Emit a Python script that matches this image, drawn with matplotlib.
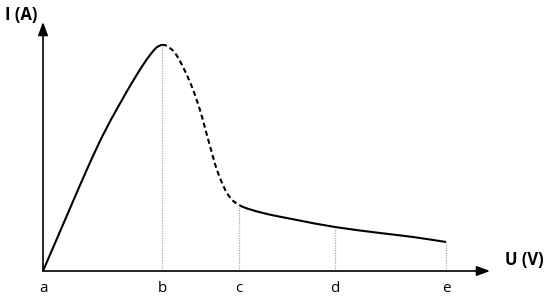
import matplotlib
matplotlib.use("Agg")
import matplotlib.pyplot as plt
from matplotlib.path import Path
from matplotlib.patches import PathPatch

plt.rcParams['font.family'] = ['Open Sans', 'DejaVu Sans']

# Tick positions and labels on the U axis
tick_labels = ['a', 'b', 'c', 'd', 'e']
tick_pos = [0, 119, 196, 292, 403]

# Rising branch (a -> b), solid
rise_x = [0, 25, 45, 60, 75, 90, 100, 107, 113, 116, 119]
rise_y = [0, 58, 104, 136, 164, 190, 206, 216, 223, 225, 226]
# Negative-resistance branch (b -> c), dashed
fall_x = [119, 124, 132, 140, 149, 157, 162, 167, 174, 184, 196]
fall_y = [226, 225, 218, 204, 184, 161, 143, 125, 101, 78, 66]
# Tail branch (c -> e), solid
tail_x = [196, 220, 254, 292, 337, 370, 403]
tail_y = [66, 58, 51, 44, 38, 34, 29]

# Height of the curve at each tick (dotted guides)
guide_y = [0, 226, 66, 44, 29]

W, H = 550, 296
fig = plt.figure(figsize=(W / 100, H / 100), dpi=100)
ax = fig.add_axes([43 / W, (H - 271) / H, (490 - 43) / W, (271 - 22) / H])
ax.set_xlim(0, 447)
ax.set_ylim(0, 249)
ax.set_axis_off()

# Build full point list and smooth with Catmull-Rom -> cubic Bezier
pts = list(zip(rise_x, rise_y)) + list(zip(fall_x, fall_y))[1:] + list(zip(tail_x, tail_y))[1:]
n_r = len(rise_x)
n_f = len(fall_x)


def seg_ctrl(i):
    p0 = pts[max(i - 1, 0)]
    p1 = pts[i]
    p2 = pts[i + 1]
    p3 = pts[min(i + 2, len(pts) - 1)]
    c1 = (p1[0] + (p2[0] - p0[0]) / 6, p1[1] + (p2[1] - p0[1]) / 6)
    c2 = (p2[0] - (p3[0] - p1[0]) / 6, p2[1] - (p3[1] - p1[1]) / 6)
    return c1, c2, p2


def make_path(i0, i1):
    verts = [pts[i0]]
    codes = [Path.MOVETO]
    for i in range(i0, i1):
        c1, c2, p2 = seg_ctrl(i)
        verts += [c1, c2, p2]
        codes += [Path.CURVE4] * 3
    return Path(verts, codes)


i_b = n_r - 1
i_c = i_b + n_f - 1
i_e = len(pts) - 1

ax.add_patch(PathPatch(make_path(0, i_b), fill=False, lw=1.5, color='black',
                       capstyle='butt', clip_on=False))
ax.add_patch(PathPatch(make_path(i_b, i_c), fill=False, lw=1.5, color='black',
                       linestyle=(0, (2.4, 1.6)), capstyle='butt', clip_on=False))
ax.add_patch(PathPatch(make_path(i_c, i_e), fill=False, lw=1.5, color='black',
                       capstyle='butt', clip_on=False))

# Dotted guides
for x, y in zip(tick_pos[1:], guide_y[1:]):
    ax.plot([x, x], [0, y], color='#aaaaaa', lw=0.9, linestyle=(0, (1, 1)), zorder=1)

# Axes with arrows
arrow = dict(arrowstyle='-|>,head_length=0.8,head_width=0.3', color='black',
             lw=1.2, shrinkA=0, shrinkB=0, mutation_scale=10)
ax.annotate('', xy=(447, 0), xytext=(0, 0), arrowprops=arrow, annotation_clip=False)
ax.annotate('', xy=(0, 249), xytext=(0, 0), arrowprops=arrow, annotation_clip=False)

# Tick labels
for x, lab in zip(tick_pos, tick_labels):
    ax.text(x, -17, lab, ha='center', va='center', fontsize=11, clip_on=False)

ax.text(-22, 256, 'I (A)', ha='center', va='center', fontsize=12, fontweight='bold', clip_on=False)
ax.text(481, 11, 'U (V)', ha='center', va='center', fontsize=12, fontweight='bold', clip_on=False)

fig.savefig('out.png', dpi=100)
